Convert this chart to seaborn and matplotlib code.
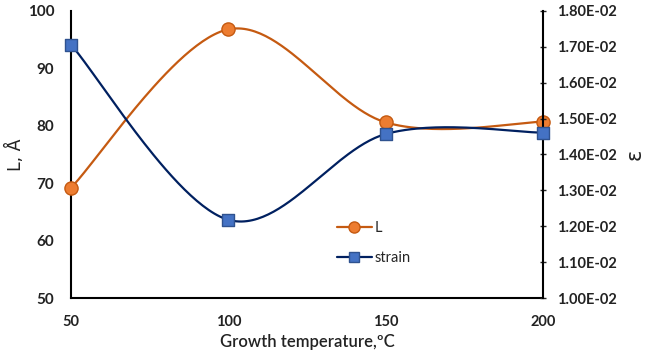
import numpy as np
import pandas as pd
import matplotlib
matplotlib.use("Agg")
import matplotlib.pyplot as plt
from matplotlib.ticker import FuncFormatter, MultipleLocator
from matplotlib.lines import Line2D
import seaborn as sns

# data
temperature = [50, 100, 150, 200]
L_values = [69.2, 96.8, 80.6, 80.7]
strain_values = [0.01706, 0.01218, 0.01457, 0.01461]

L_line, L_face = "#C55A11", "#ED7D31"
s_line, s_face = "#002060", "#4472C4"


def excel_smooth(xs, ys, xr, yr, n=60):
    # Catmull-Rom style bezier like Excel's "smoothed line", done in axis-normalised space
    px = (np.asarray(xs, float) - xr[0]) / (xr[1] - xr[0])
    py = (np.asarray(ys, float) - yr[0]) / (yr[1] - yr[0])
    P = np.column_stack([px, py])
    P = np.vstack([P[0], P, P[-1]])
    out = []
    for i in range(1, len(P) - 2):
        p0, p1, p2, p3 = P[i - 1], P[i], P[i + 1], P[i + 2]
        c1 = p1 + (p2 - p0) / 6
        c2 = p2 - (p3 - p1) / 6
        t = np.linspace(0, 1, n)[:, None]
        seg = (1 - t) ** 3 * p1 + 3 * (1 - t) ** 2 * t * c1 + 3 * (1 - t) * t ** 2 * c2 + t ** 3 * p2
        out.append(seg if i == 1 else seg[1:])
    out = np.vstack(out)
    return (out[:, 0] * (xr[1] - xr[0]) + xr[0],
            out[:, 1] * (yr[1] - yr[0]) + yr[0])


sns.set_style("white")
plt.rcParams["font.family"] = ["Lato", "DejaVu Sans"]

fig = plt.figure(figsize=(6.67, 3.52), dpi=100)
ax = fig.add_axes([0.1064, 0.1534, 0.7076, 0.8154])
ax2 = ax.twinx()

xr = (50, 200)
yr1 = (50, 100)
yr2 = (0.010, 0.018)

sx, sy = excel_smooth(temperature, L_values, xr, yr1)
sns.lineplot(x=sx, y=sy, ax=ax, color=L_line, lw=1.6, sort=False, estimator=None)
df_L = pd.DataFrame({"T": temperature, "L": L_values})
sns.scatterplot(data=df_L, x="T", y="L", ax=ax, marker="o", s=90,
                color=L_face, edgecolor=L_line, linewidth=1, zorder=5, clip_on=False)

tx, ty = excel_smooth(temperature, strain_values, xr, yr2)
sns.lineplot(x=tx, y=ty, ax=ax2, color=s_line, lw=1.6, sort=False, estimator=None)
df_s = pd.DataFrame({"T": temperature, "strain": strain_values})
sns.scatterplot(data=df_s, x="T", y="strain", ax=ax2, marker="s", s=80,
                color=s_face, edgecolor="#2F528F", linewidth=1, zorder=5, clip_on=False)

ax.set_xlim(*xr)
ax.set_ylim(*yr1)
ax2.set_ylim(*yr2)
ax.xaxis.set_major_locator(MultipleLocator(50))
ax.yaxis.set_major_locator(MultipleLocator(10))
ax2.yaxis.set_major_locator(MultipleLocator(0.001))
ax2.yaxis.set_major_formatter(FuncFormatter(lambda v, p: f"{v:.2E}"))

for a in (ax, ax2):
    a.spines["top"].set_visible(False)
    for s in ("left", "bottom", "right"):
        a.spines[s].set_color("black")
        a.spines[s].set_linewidth(1.5)
ax.spines["right"].set_visible(False)
ax2.spines["left"].set_visible(False)
ax2.spines["bottom"].set_visible(False)

ax.tick_params(axis="y", length=0, pad=12, labelsize=11, labelcolor="#222222")
ax.tick_params(axis="x", length=4, width=1, direction="out", pad=8, labelsize=10.5, labelcolor="#222222")
ax2.tick_params(axis="y", length=4, width=1, direction="inout", pad=8, labelsize=10.5, labelcolor="#222222")
for lab in ax.get_xticklabels() + ax.get_yticklabels() + ax2.get_yticklabels():
    lab.set_fontweight("bold")

ax.set_xlabel("Growth temperature,ºC", fontsize=12, labelpad=4, color="#222222", fontweight="semibold")
ax.set_ylabel("L, Å", fontsize=12.5, labelpad=2, color="#222222", family=["DejaVu Sans"])
ax2.set_ylabel("ε", fontsize=15, rotation=90, labelpad=6, color="#222222", family=["DejaVu Sans"])

handles = [
    Line2D([], [], color=L_line, lw=1.6, marker="o", ms=8, mfc=L_face, mec=L_line),
    Line2D([], [], color=s_line, lw=1.6, marker="s", ms=7, mfc=s_face, mec="#2F528F"),
]
ax.legend(handles, ["L", "strain"], loc="center left", bbox_to_anchor=(0.535, 0.19),
          frameon=False, fontsize=10.5, handlelength=2.4, labelspacing=1.1, handletextpad=0.2)

fig.savefig("out.png", dpi=100)
